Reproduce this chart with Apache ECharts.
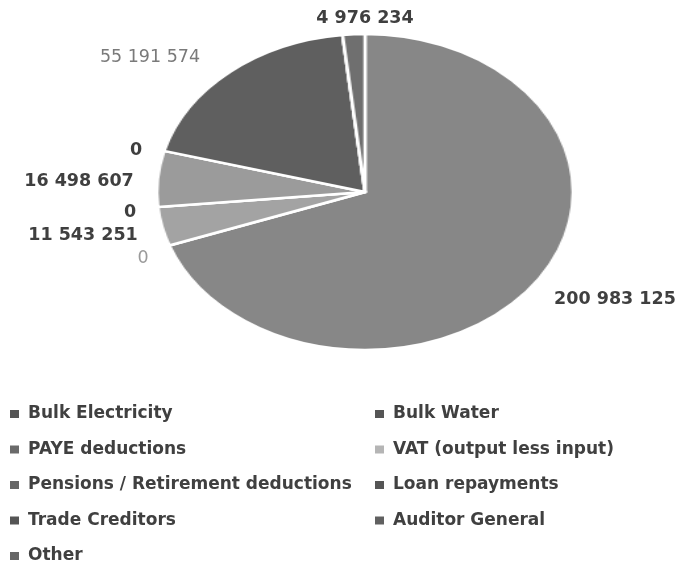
<!DOCTYPE html>
<html>
<head>
<meta charset="utf-8">
<script src="https://cdn.jsdelivr.net/npm/echarts@6/dist/echarts.min.js"></script>
<style>
  html, body { margin: 0; padding: 0; background: #ffffff; }
  #wrap { position: relative; width: 681px; height: 562px; overflow: hidden; }
  #pie { position: absolute; left: 0; top: 0; width: 681px; height: 562px; transform: scaleX(1.317); transform-origin: 365px 0; }
  #main { position: absolute; left: 0; top: 0; width: 681px; height: 562px; }
</style>
</head>
<body>
<div id="wrap">
  <div id="pie"></div>
  <div id="main"></div>
</div>
<script>
// ---- data ----
const categories = [
  'Bulk Electricity',
  'Bulk Water',
  'PAYE deductions',
  'VAT (output less input)',
  'Pensions / Retirement deductions',
  'Loan repayments',
  'Trade Creditors',
  'Auditor General',
  'Other'
];
const values = [200983125, 0, 11543251, 0, 16498607, 0, 55191574, 0, 4976234];
const leftLegend = ['Bulk Electricity', 'PAYE deductions', 'Pensions / Retirement deductions', 'Trade Creditors', 'Other'];
const rightLegend = ['Bulk Water', 'VAT (output less input)', 'Loan repayments', 'Auditor General'];

// ---- styles ----
const sliceColors = ['#878787', '#5a5a5a', '#a3a3a3', '#bdbdbd', '#9b9b9b', '#5a5a5a', '#5f5f5f', '#5e5e5e', '#6f6f6f'];
const markerColors = ['#555555', '#555555', '#6a6a6a', '#b5b5b5', '#666666', '#555555', '#555555', '#606060', '#666666'];
const labelPos = [[615, 299], [143, 258], [83, 235], [130, 212], [79, 181], [136, 150], [150, 57], null, [365, 18]];
const labelColors = ['#3f3f3f', '#9a9a9a', '#3f3f3f', '#3f3f3f', '#3f3f3f', '#3f3f3f', '#7a7a7a', '#3f3f3f', '#3f3f3f'];
const labelWeights = ['bold', 'normal', 'bold', 'bold', 'bold', 'bold', 'normal', 'bold', 'bold'];
const FONT = 'DejaVu Sans';

function fmt(v) {
  return String(v).replace(/\B(?=(\d{3})+(?!\d))/g, ' ');
}

const CENTER = [365, 192];
const R = 158;

// ---- pie slices (stretched horizontally to an ellipse) ----
const pieChart = echarts.init(document.getElementById('pie'), null, { renderer: 'canvas' });
pieChart.setOption({
  animation: false,
  series: [{
    type: 'pie',
    center: CENTER,
    radius: R,
    startAngle: 90,
    clockwise: true,
    avoidLabelOverlap: false,
    label: { show: false },
    labelLine: { show: false },
    emphasis: { disabled: true },
    silent: true,
    itemStyle: { borderColor: '#ffffff', borderWidth: 2.5 },
    data: categories.map((c, i) => ({ name: c, value: values[i], itemStyle: { color: sliceColors[i] } }))
  }]
});

// ---- labels and legend ----
const chart = echarts.init(document.getElementById('main'), null, { renderer: 'canvas' });
const legendText = { fontFamily: FONT, fontWeight: 'bold', fontSize: 17, color: '#404040', lineHeight: 18, padding: [0, 0, 0, 4] };
function legendData(names) {
  return names.map(n => {
    const i = categories.indexOf(n);
    return { name: n, icon: 'rect', itemStyle: { color: markerColors[i], opacity: 1, borderWidth: 0 } };
  });
}
chart.setOption({
  animation: false,
  legend: [
    {
      orient: 'vertical', left: 10, top: 405, height: 200, padding: 0,
      itemWidth: 9, itemHeight: 8, itemGap: 17.5,
      selectedMode: false,
      textStyle: legendText,
      data: legendData(leftLegend)
    },
    {
      orient: 'vertical', left: 375, top: 405, height: 200, padding: 0,
      itemWidth: 9, itemHeight: 8, itemGap: 17.5,
      selectedMode: false,
      textStyle: legendText,
      data: legendData(rightLegend)
    }
  ],
  series: [{
    type: 'pie',
    center: CENTER,
    radius: R,
    startAngle: 90,
    clockwise: true,
    avoidLabelOverlap: false,
    silent: true,
    emphasis: { disabled: true },
    itemStyle: { color: 'rgba(255,255,255,0)', borderWidth: 0 },
    labelLine: { show: false },
    label: {
      show: true,
      position: 'outside',
      fontFamily: FONT,
      fontSize: 17.5,
      formatter: p => fmt(p.value)
    },
    labelLayout: function (p) {
      const pos = labelPos[p.dataIndex];
      if (!pos) return {};
      return { x: pos[0], y: pos[1], align: 'center', verticalAlign: 'middle' };
    },
    data: categories.map((c, i) => ({
      name: c,
      value: values[i],
      label: { show: labelPos[i] !== null, color: labelColors[i], fontWeight: labelWeights[i] }
    }))
  }]
});
</script>
</body>
</html>
